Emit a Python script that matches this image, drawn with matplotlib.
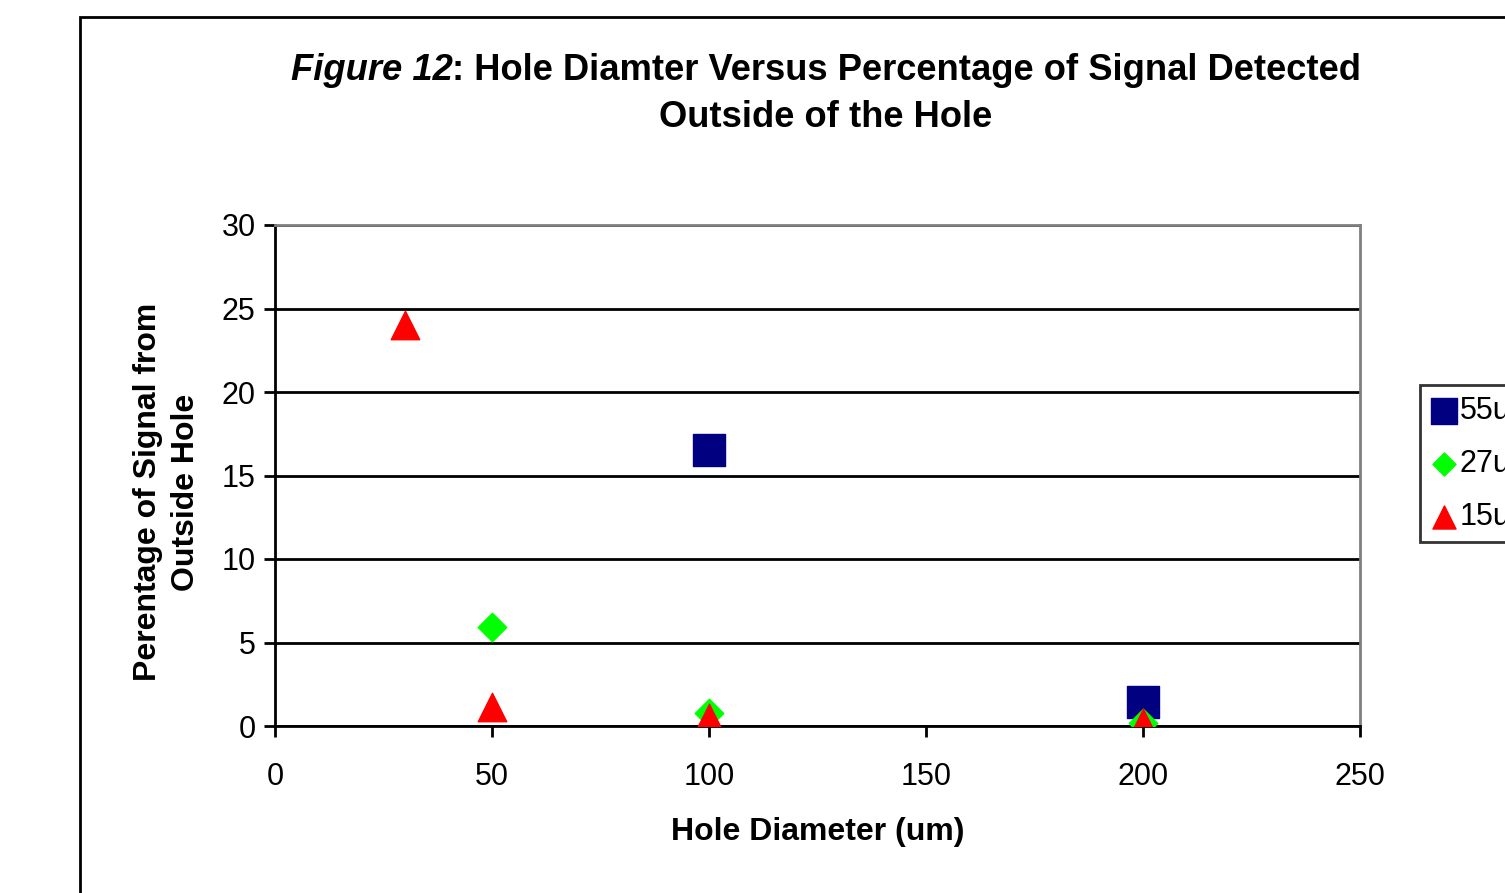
import matplotlib.pyplot as plt
from matplotlib.patches import Rectangle

plt.rcParams['font.family'] = ['Liberation Sans', 'DejaVu Sans']

# data
labels = ["55um", "27um", "15um"]
x_55 = [100, 200]
y_55 = [16.5, 1.45]
x_27 = [50, 100, 200]
y_27 = [5.9, 0.75, 0.2]
x_15 = [30, 50, 100, 200]
y_15 = [24.0, 1.15, 0.5, 0.15]

x_ticks = [0, 50, 100, 150, 200, 250]
y_ticks = [0, 5, 10, 15, 20, 25, 30]

W, H = 1505, 893
fig = plt.figure(figsize=(W / 100, H / 100), dpi=100)

# outer chart frame, runs off the right and bottom edges
fig.patches.append(Rectangle((80 / W, -0.05), 1.0, 1 - 17 / H + 0.05,
                             transform=fig.transFigure, fill=False,
                             edgecolor='black', linewidth=2))

ax = fig.add_axes([275 / W, 1 - 726 / H, (1360 - 275) / W, (726 - 225) / H])

ax.scatter(x_55, y_55, marker='s', s=530, color='#000080', label=labels[0], zorder=3)
ax.scatter(x_27, y_27, marker='D', s=210, color='#00ff00', label=labels[1], zorder=4)
ax.scatter(x_15, y_15, marker='^', s=420, color='#ff0000', label=labels[2], zorder=5)

ax.set_xlim(0, 250)
ax.set_ylim(0, 30)
ax.set_xticks(x_ticks)
ax.set_yticks(y_ticks)
ax.tick_params(labelsize=22, direction='out', length=8, width=2)
ax.tick_params(axis='x', pad=18)
ax.tick_params(axis='y', pad=6)
ax.yaxis.grid(True, color='black', linewidth=2)
ax.set_axisbelow(True)

for side in ['top', 'right']:
    ax.spines[side].set_color('#808080')
    ax.spines[side].set_linewidth(2)
for side in ['left', 'bottom']:
    ax.spines[side].set_linewidth(2)

ax.set_xlabel("Hole Diameter (um)", fontsize=23, fontweight='bold', labelpad=18)
ax.set_ylabel("Perentage of Signal from\nOutside Hole", fontsize=23,
              fontweight='bold', labelpad=15, linespacing=1.35)
ax.yaxis.label.set_y(0.467)

# title: italic figure number followed by bold text, centred as one line
title_size = 26.2
t1 = fig.text(0, 1 - 70 / H, "Figure 12", fontsize=title_size, fontweight='bold',
              style='italic', va='center', ha='left')
t2 = fig.text(0, 1 - 70 / H, ": Hole Diamter Versus Percentage of Signal Detected",
              fontsize=title_size, fontweight='bold', va='center', ha='left')
renderer = fig.canvas.get_renderer()
w1 = t1.get_window_extent(renderer).width
w2 = t2.get_window_extent(renderer).width
x0 = 826 - (w1 + w2) / 2
t1.set_x(x0 / W)
t2.set_x((x0 + w1) / W)
fig.text(826 / W, 1 - 118 / H, "Outside of the Hole", fontsize=title_size,
         fontweight='bold', va='center', ha='center')

leg = ax.legend(loc='upper left', bbox_to_anchor=(1420 / W, 1 - 385 / H),
                bbox_transform=fig.transFigure, fontsize=22, frameon=True,
                fancybox=False, edgecolor='black', handletextpad=0.1,
                handlelength=0.85, borderpad=0.35, labelspacing=0.75,
                markerscale=0.81, borderaxespad=0)
leg.get_frame().set_linewidth(2)

fig.savefig("out.png", dpi=100)
